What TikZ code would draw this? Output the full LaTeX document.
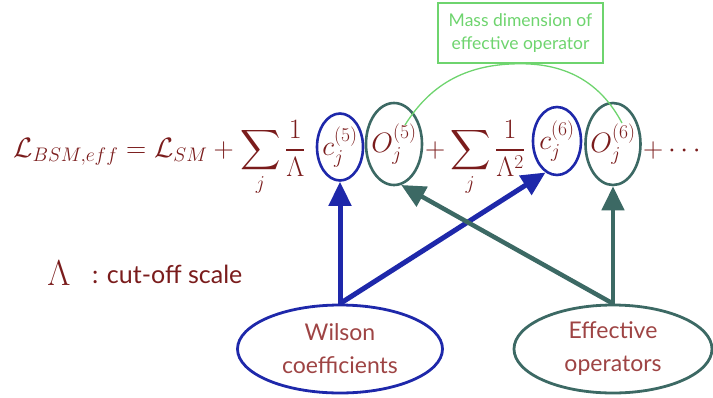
\RequirePackage{fix-cm}
\documentclass[tikz,border=0pt]{standalone}
\usepackage{amsmath}
\usepackage{fontspec}
\DeclareFontShape{OMX}{cmex}{m}{n}{<->cmex10}{}
\newfontfamily\labelfont{Lato}
\usetikzlibrary{shapes.geometric,arrows.meta}
\definecolor{mred}{RGB}{122,28,28}
\definecolor{lred}{RGB}{158,68,68}
\definecolor{wblue}{RGB}{30,40,170}
\definecolor{oteal}{RGB}{60,105,100}
\definecolor{mgreen}{RGB}{110,212,110}
\tikzset{
  eqpart/.style={inner sep=0pt, anchor=base west, text=mred, font=\fontsize{28}{34}\selectfont},
  eqsym/.style={inner sep=0pt, text=mred, font=\fontsize{28}{34}\selectfont},
  ell/.style={ellipse, inner sep=0pt, line width=2.6pt},
  bigell/.style={ellipse, inner sep=0pt, line width=2.8pt, minimum width=200pt, minimum height=88pt},
  lbl/.style={inner sep=0pt, align=center, text=lred, font=\labelfont\fontsize{23}{33}\selectfont},
  warrow/.style={draw=wblue, line width=5pt, -{Triangle[length=24pt,width=22pt]}},
  oarrow/.style={draw=oteal, line width=4.5pt, -{Triangle[length=24pt,width=22pt]}},
}
\begin{document}
\begin{tikzpicture}[x=1pt,y=-1pt]
\useasboundingbox (0,0) rectangle (713,397);
% equation
\node[eqpart] (eqa) at (13,157) {$\displaystyle \mathcal{L}_{BSM,eff}=\mathcal{L}_{SM}+\sum_j\frac{1}{\Lambda}$};
\node[ell, draw=wblue, minimum width=46pt, minimum height=67pt] (c5) at (340,147) {};
\node[eqsym] (c5t) at (c5) {$c_j^{(5)}$};
\node[ell, draw=oteal, minimum width=56pt, minimum height=82pt] (o5) at (394,144) {};
\node[eqsym] (o5t) at (o5) {$O_j^{(5)}$};
\node[eqpart] (eqb) at (425,157) {$\displaystyle +\sum_j\frac{1}{\Lambda^2}$};
\node[ell, draw=wblue, minimum width=48pt, minimum height=68pt] (c6) at (557,141) {};
\node[eqsym] (c6t) at (c6) {$c_j^{(6)}$};
\node[ell, draw=oteal, minimum width=55pt, minimum height=82pt] (o6) at (613,144) {};
\node[eqsym] (o6t) at (o6) {$O_j^{(6)}$};
\node[eqpart] (eqc) at (643,157) {$+\cdots$};
% green annotation
\node[draw=mgreen, line width=1.5pt, minimum width=165pt, minimum height=60pt, inner sep=0pt, align=center, text=mgreen, font=\labelfont\fontsize{17.5}{23}\selectfont] (md) at (520.5,33) {Mass dimension of\\effective operator};
\coordinate (g1) at (405,125);
\coordinate (g2) at (622,123);
\draw[mgreen, line width=1.3pt] (g1) to[out=58,in=180] (md.south) to[out=0,in=118] (g2);
% Lambda note
\node[inner sep=0pt, anchor=base, text=mred, font=\fontsize{36}{42}\selectfont] (lam) at (59,285) {$\Lambda$};
\node[inner sep=0pt, anchor=base west, text=mred, font=\labelfont\fontsize{25}{30}\selectfont] (lamt) at (92,283) {: cut-off scale};
% bottom ellipses
\node[bigell, draw=wblue, minimum width=205pt] (w) at (340,349) {};
\node[lbl] (wt) at (w) {Wilson\\coefficients};
\node[bigell, draw=oteal, minimum width=198pt] (e) at (613,349) {};
\node[lbl] (et) at (e) {Effective\\operators};
% arrows
\draw[warrow] (w.north) -- (c5.south);
\draw[warrow] (w.north) -- (c6.250);
\draw[oarrow] (e.north) -- (o5.280);
\draw[oarrow] (e.north) -- (o6.south);
\end{tikzpicture}
\end{document}
